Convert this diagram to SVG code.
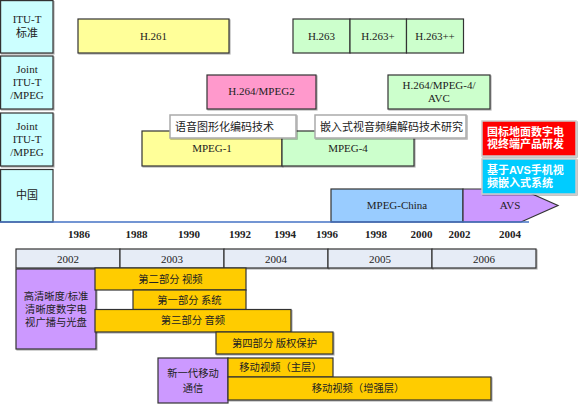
<svg xmlns="http://www.w3.org/2000/svg" width="578" height="404" viewBox="0 0 578 404">
<defs>
<filter id="sh" x="-5%" y="-5%" width="115%" height="130%">
<feDropShadow dx="1" dy="1" stdDeviation="0.6" flood-color="#000" flood-opacity="0.3"/>
</filter>
</defs>
<style>
.b{stroke:#333;stroke-width:1.2}
.t{font-family:'Liberation Serif','Noto Sans CJK SC',serif;font-size:11px;fill:#222;text-anchor:middle;dominant-baseline:central}
.c{font-family:'Liberation Serif','Noto Sans CJK SC',serif;font-size:10.3px;fill:#222;text-anchor:middle;dominant-baseline:central}
.y{font-family:'Liberation Serif',serif;font-size:11px;font-weight:bold;fill:#222;text-anchor:middle}
.lab{fill:#fff;stroke:#aaa;stroke-width:1.5}
.lt{font-family:'Liberation Sans','Noto Sans CJK SC',sans-serif;font-size:11px;fill:#222;dominant-baseline:central}
.wt{font-family:'Liberation Sans','Noto Sans CJK SC',sans-serif;font-size:11px;font-weight:bold;fill:#fff;dominant-baseline:central}
.cy{fill:#CCFFFF}
.ye{fill:#FFFF99}
.gr{fill:#CCFFCC}
.or{fill:#FFCC00}
.pu{fill:#CC99FF}
.yr{fill:#E6ECF6}
</style>

<g id="row-itu">
<rect x="0.6" y="0.6" width="52.4" height="52.4" class="cy b" filter="url(#sh)"/>
<text x="27" y="19" class="t">ITU-T</text>
<text x="27" y="33" class="t">标准</text>
</g>
<g id="row-joint1">
<rect x="0.6" y="56" width="52.4" height="53" class="cy b" filter="url(#sh)"/>
<text x="27" y="69" class="t">Joint</text>
<text x="27" y="82" class="t">ITU-T</text>
<text x="27" y="95" class="t">/MPEG</text>
</g>
<g id="row-joint2">
<rect x="0.6" y="113" width="52.4" height="53" class="cy b" filter="url(#sh)"/>
<text x="27" y="126" class="t">Joint</text>
<text x="27" y="139" class="t">ITU-T</text>
<text x="27" y="152" class="t">/MPEG</text>
</g>
<g id="row-china">
<rect x="0.6" y="169.5" width="52.4" height="52.5" class="cy b"/>
<text x="27" y="195" class="t">中国</text>
</g>

<g id="h261">
<rect x="78" y="19" width="151" height="34" class="ye b" filter="url(#sh)"/>
<text x="153.5" y="36" class="t">H.261</text>
</g>
<g id="h263">
<rect x="293" y="19" width="57" height="34" class="gr b"/>
<text x="321.5" y="36" class="t">H.263</text>
</g>
<g id="h263p">
<rect x="350" y="19" width="56.5" height="34" class="gr b"/>
<text x="378" y="36" class="t">H.263+</text>
</g>
<g id="h263pp">
<rect x="406.5" y="19" width="57" height="34" class="gr b"/>
<text x="435" y="36" class="t">H.263++</text>
</g>

<g id="h264mpeg2">
<rect x="207" y="75" width="109" height="34" fill="#FF99CC" class="b" filter="url(#sh)"/>
<text x="261.5" y="91" class="t">H.264/MPEG2</text>
</g>
<g id="h264avc">
<rect x="388" y="75" width="102" height="34" class="gr b" filter="url(#sh)"/>
<text x="439" y="85" class="t">H.264/MPEG-4/</text>
<text x="439" y="98" class="t">AVC</text>
</g>

<g id="mpeg1">
<rect x="142" y="131" width="140" height="35" class="ye b" filter="url(#sh)"/>
<text x="212" y="148" class="t">MPEG-1</text>
</g>
<g id="mpeg4">
<rect x="282" y="131" width="132" height="35" class="gr b" filter="url(#sh)"/>
<text x="348" y="148" class="t">MPEG-4</text>
</g>

<g id="label-speech">
<rect x="170" y="115" width="126" height="23" class="lab" filter="url(#sh)"/>
<text x="175" y="126.5" class="lt">语音图形化编码技术</text>
</g>
<g id="label-embedded">
<rect x="315" y="115" width="151" height="23" class="lab" filter="url(#sh)"/>
<text x="320" y="126.5" class="lt">嵌入式视音频编解码技术研究</text>
</g>

<g id="mpegchina">
<rect x="331" y="189" width="132" height="33" fill="#99CCFF" class="b"/>
<text x="397" y="205" class="t">MPEG-China</text>
</g>
<g id="avs">
<polygon points="463,189 521,189 558,205.5 521,222 463,222" class="pu b"/>
<text x="510" y="205" class="t">AVS</text>
</g>

<g id="connectors">
<line x1="0" y1="222" x2="529" y2="222" stroke="#4472C4" stroke-width="1.5"/>
</g>

<g id="red-box">
<rect x="482" y="121" width="94" height="35" fill="#FF0000" stroke="#ccc" stroke-width="1.5" filter="url(#sh)"/>
<text x="487" y="131.5" class="wt">国标地面数字电</text>
<text x="487" y="144" class="wt">视终端产品研发</text>
</g>
<g id="cyan-box">
<rect x="482" y="159" width="94" height="35" fill="#00CCFF" stroke="#ccc" stroke-width="1.5" filter="url(#sh)"/>
<text x="487" y="170" class="wt">基于AVS手机视</text>
<text x="487" y="182.5" class="wt">频嵌入式系统</text>
</g>

<g id="axis-years">
<text x="79" y="238" class="y">1986</text>
<text x="136.5" y="238" class="y">1988</text>
<text x="189" y="238" class="y">1990</text>
<text x="240" y="238" class="y">1992</text>
<text x="285" y="238" class="y">1994</text>
<text x="327" y="238" class="y">1996</text>
<text x="376" y="238" class="y">1998</text>
<text x="421.5" y="238" class="y">2000</text>
<text x="459.5" y="238" class="y">2002</text>
<text x="510" y="238" class="y">2004</text>
</g>

<g id="year-bar">
<rect x="16" y="249" width="104" height="19" class="yr b" filter="url(#sh)"/>
<rect x="120" y="249" width="104" height="19" class="yr b" filter="url(#sh)"/>
<rect x="224" y="249" width="104" height="19" class="yr b" filter="url(#sh)"/>
<rect x="328" y="249" width="104" height="19" class="yr b" filter="url(#sh)"/>
<rect x="432" y="249" width="104" height="19" class="yr b" filter="url(#sh)"/>
<text x="68" y="259" class="t">2002</text>
<text x="172" y="259" class="t">2003</text>
<text x="276" y="259" class="t">2004</text>
<text x="380" y="259" class="t">2005</text>
<text x="484" y="259" class="t">2006</text>
</g>

<g id="hdtv">
<rect x="16" y="269" width="80" height="80" class="pu b" filter="url(#sh)"/>
<text x="56" y="296" class="c">高清晰度/标准</text>
<text x="56" y="309" class="c">清晰度数字电</text>
<text x="56" y="322" class="c">视广播与光盘</text>
</g>
<g id="part2">
<rect x="95" y="268" width="151" height="22" class="or b"/>
<text x="170.5" y="279" class="c">第二部分 视频</text>
</g>
<g id="part1">
<rect x="133" y="290" width="113" height="19.5" class="or b"/>
<text x="189.5" y="300" class="c">第一部分 系统</text>
</g>
<g id="part3">
<rect x="95" y="309.5" width="196" height="22.5" class="or b" filter="url(#sh)"/>
<text x="193" y="320.5" class="c">第三部分 音频</text>
</g>
<g id="part4">
<rect x="216" y="332" width="117" height="22" class="or b" filter="url(#sh)"/>
<text x="274.5" y="343" class="c">第四部分 版权保护</text>
</g>
<g id="mobile">
<rect x="158" y="358" width="70" height="45" class="pu b"/>
<text x="193" y="373" class="c">新一代移动</text>
<text x="193" y="388" class="c">通信</text>
</g>
<g id="mobile-main">
<rect x="228" y="358" width="105" height="19" class="or b"/>
<text x="280.5" y="367.5" class="c">移动视频（主层）</text>
</g>
<g id="mobile-enh">
<rect x="228" y="377" width="263" height="23" class="or b" filter="url(#sh)"/>
<text x="358" y="388.5" class="c">移动视频（增强层）</text>
</g>
</svg>
